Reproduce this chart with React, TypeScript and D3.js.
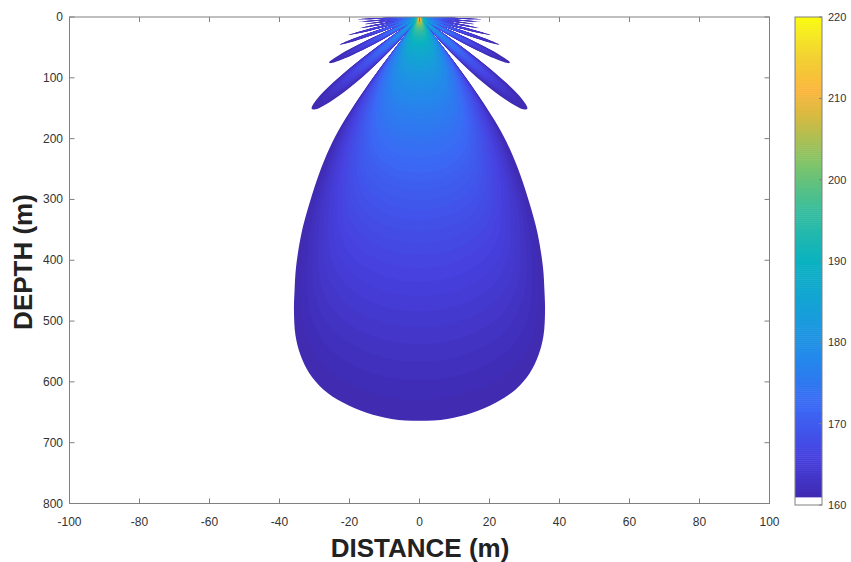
import * as d3 from "d3";
import React from "react";

// размеры и область графика
const W = 851;
const H = 562;
const plot = { left: 69.5, right: 769.5, top: 17, bottom: 503.5 };
const cbar = { left: 795, right: 822, top: 17, bottom: 505 };

// оси
const xTicks = [-100, -80, -60, -40, -20, 0, 20, 40, 60, 80, 100];
const yTicks = [0, 100, 200, 300, 400, 500, 600, 700, 800];
const cbarTicks = [160, 170, 180, 190, 200, 210, 220];

// главный лепесток: угол (град) -> дальность границы (м)
const mainLobeAngles = [0, 0.69, 1.33, 1.99, 2.57, 3.07, 3.5, 3.87, 4.25, 4.54, 4.9, 5.41, 5.84, 6.45, 6.9, 7.2, 7.5, 7.7, 7.9];
const mainLobeRanges = [664, 661, 651, 634, 613, 587, 557, 525, 484, 451, 413, 358, 310, 250, 207, 170, 118, 60, 0];

// боковые лепестки: нули (град) и максимальная дальность (м)
const sideLobeNulls = [7.9, 14.6, 22.7, 30.2, 38.2, 47.5, 58.8, 71, 85];
const sideLobePeaks = [155, 80, 51, 36, 25, 19.5, 19, 18];

// форма одного лепестка (доля от максимума по доле ширины)
const lobeProfile = [0, 0.16, 0.31, 0.45, 0.59, 0.71, 0.81, 0.89, 0.95, 0.99, 1,
  0.99, 0.95, 0.89, 0.81, 0.71, 0.59, 0.45, 0.31, 0.16, 0];

// уровень (дБ) в зависимости от доли до границы
const bandFractions = [1, 0.9, 0.75, 0.6, 0.45, 0.3, 0.2, 0.12, 0.07, 0.04, 0.02, 0.01, 0.003];
const bandLevels = [161, 162.3, 164.5, 167, 170, 174.5, 178.5, 184, 189.5, 195, 202, 209, 217];

// палитра parula
const parulaPos = [0, 0.1, 0.2, 0.3, 0.4, 0.5, 0.6, 0.7, 0.8, 0.85, 0.92, 1];
const parulaHex = ["#3e26a8", "#4741e0", "#3b68f5", "#2488eb", "#16a0d8", "#0ab2c0",
  "#35bd9f", "#7fc468", "#d9ba40", "#fbb63d", "#f2d233", "#f9fb0e"];

const font = "'Liberation Sans', Arial, Helvetica, sans-serif";

export default function App() {
  const x = d3.scaleLinear().domain([-100, 100]).range([plot.left, plot.right]);
  const y = d3.scaleLinear().domain([0, 800]).range([plot.top, plot.bottom]);
  const cy = d3.scaleLinear().domain([160, 220]).range([cbar.bottom, cbar.top]);

  const parula = d3.scaleLinear<string>().domain(parulaPos).range(parulaHex)
    .interpolate(d3.interpolateRgb).clamp(true);
  const colorOf = (level: number) => parula((level - 160) / 60);
  const levelOf = d3.scaleLog().domain(bandFractions).range(bandLevels).clamp(true);

  // контур диаграммы направленности в полярных координатах (правая половина)
  const half: [number, number][] = mainLobeAngles.map((a, i) => [a, mainLobeRanges[i]]);
  sideLobePeaks.forEach((peak, k) => {
    const a0 = sideLobeNulls[k];
    const a1 = sideLobeNulls[k + 1];
    lobeProfile.forEach((p, j) => {
      if (j === 0) return;
      half.push([a0 + (a1 - a0) * (j / (lobeProfile.length - 1)), peak * p]);
    });
  });
  const full: [number, number][] = [
    ...half.slice().reverse().map(([a, r]) => [-a, r] as [number, number]),
    ...half.slice(1),
  ];
  const pts: [number, number][] = full.map(([a, r]) => {
    const t = (a * Math.PI) / 180;
    return [x(r * Math.sin(t)), y(r * Math.cos(t))];
  });
  const outline = d3.line().curve(d3.curveCatmullRomClosed.alpha(0.5))(pts) as string;

  const ox = x(0);
  const oy = y(0);
  const N = 110;
  const bands = d3.range(N + 1).map((i) => Math.pow(0.003, i / N));

  // цветовая шкала
  const cbarSteps = d3.range(160, 220, 0.25);

  return (
    <svg width={W} height={H} style={{ position: "absolute", left: 0, top: 0, background: "#fff" }}>
      <defs>
        <clipPath id="plotClip">
          <rect x={plot.left} y={plot.top} width={plot.right - plot.left} height={plot.bottom - plot.top} />
        </clipPath>
      </defs>
      <rect x={0} y={0} width={W} height={H} fill="#fff" />

      <g clipPath="url(#plotClip)">
        {bands.map((f, i) => (
          <path
            key={i}
            d={outline}
            fill={colorOf(levelOf(f))}
            transform={`translate(${ox},${oy}) scale(${f}) translate(${-ox},${-oy})`}
          />
        ))}
      </g>

      {/* рамка и деления */}
      <rect x={plot.left} y={plot.top} width={plot.right - plot.left} height={plot.bottom - plot.top}
        fill="none" stroke="#808080" strokeWidth={1} />
      {xTicks.map((t) => (
        <g key={"x" + t}>
          <line x1={x(t)} x2={x(t)} y1={plot.bottom} y2={plot.bottom - 5} stroke="#808080" />
          <line x1={x(t)} x2={x(t)} y1={plot.top} y2={plot.top + 5} stroke="#808080" />
          <text x={x(t)} y={526} textAnchor="middle" fontSize={12} fontFamily={font} fill="#333">{t}</text>
        </g>
      ))}
      {yTicks.map((t) => (
        <g key={"y" + t}>
          <line x1={plot.left} x2={plot.left + 5} y1={y(t)} y2={y(t)} stroke="#808080" />
          <line x1={plot.right} x2={plot.right - 5} y1={y(t)} y2={y(t)} stroke="#808080" />
          <text x={63} y={y(t) + 4} textAnchor="end" fontSize={12} fontFamily={font} fill="#333">{t}</text>
        </g>
      ))}

      <text x={420} y={557} textAnchor="middle" fontSize={26} fontWeight="bold" fontFamily={font} fill="#222">
        DISTANCE (m)
      </text>
      <text transform="translate(32,262) rotate(-90)" textAnchor="middle" fontSize={26} fontWeight="bold"
        fontFamily={font} fill="#222">
        DEPTH (m)
      </text>

      {/* colorbar */}
      {cbarSteps.map((v) => (
        <rect key={v} x={cbar.left} y={cy(v + 0.25)} width={cbar.right - cbar.left}
          height={cy(v) - cy(v + 0.25) + 0.5} fill={v < 160.94 ? "#fff" : colorOf(v + 0.125)} />
      ))}
      <rect x={cbar.left} y={cbar.top} width={cbar.right - cbar.left} height={cbar.bottom - cbar.top}
        fill="none" stroke="#808080" />
      {cbarTicks.map((t) => (
        <g key={"c" + t}>
          <line x1={cbar.right} x2={cbar.right - 3} y1={cy(t)} y2={cy(t)} stroke="#808080" />
          <text x={828} y={cy(t) + 4} fontSize={11} fontFamily={font} fill="#333">{t}</text>
        </g>
      ))}
    </svg>
  );
}
